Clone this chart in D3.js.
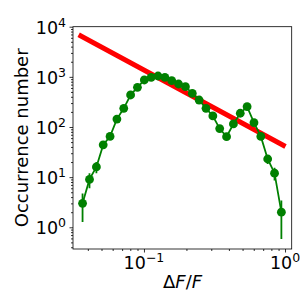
<!DOCTYPE html>
<html>
<head>
<meta charset="utf-8">
<script src="https://cdn.jsdelivr.net/npm/d3@7"></script>
<style>
  body { margin: 0; background: #fff; }
  text { font-family: 'DejaVu Sans', sans-serif; fill: #000; }
</style>
</head>
<body>
<svg id="chart" width="306" height="292"></svg>
<script>
// bins of dF/F (log spaced) and occurrence counts
const dff = [0.0367, 0.0411, 0.0460, 0.0514, 0.0575, 0.0643, 0.0719, 0.0804, 0.0899, 0.1006,
             0.1125, 0.1258, 0.1407, 0.1573, 0.1759, 0.1968, 0.2201, 0.2461, 0.2753, 0.3078,
             0.3442, 0.3850, 0.4306, 0.4816, 0.5385, 0.6023, 0.6736, 0.7534, 0.8425, 0.9421];
const counts = [3, 9, 16, 44, 65, 144, 236, 435, 619, 866,
                979, 1040, 979, 838, 720, 636, 470, 345, 236, 166,
                93, 64, 115, 188, 254, 122, 65, 23, 12, 2];

// power law fit, two end points
const fitX = [0.0357, 0.972];
const fitY = [6530, 43];

const yTicks = [1, 10, 100, 1000, 10000];
const yTickExp = ['0', '1', '2', '3', '4'];
const xTicks = [0.1, 1];
const xTickExp = ['\u22121', '0'];

let svg = d3.select('#chart');

const pLeft = 73, pRight = 291.7, pTop = 26.7, pBottom = 249;
const x = d3.scaleLog().domain([0.0314, 1.115]).range([pLeft, pRight]);
const y = d3.scaleLog().domain([0.369, 10000]).range([pBottom, pTop]);

svg.append('clipPath').attr('id', 'clip')
  .append('rect')
  .attr('x', pLeft).attr('y', pTop)
  .attr('width', pRight - pLeft).attr('height', pBottom - pTop);

// minor ticks
const isMajor = v => Math.abs(Math.log10(v) - Math.round(Math.log10(v))) < 1e-6;
const xMinor = x.ticks().filter(v => !isMajor(v));
const yMinor = y.ticks().filter(v => !isMajor(v));

svg.append('g')
  .attr('transform', `translate(0,${pBottom})`)
  .call(d3.axisBottom(x).tickValues(xMinor).tickSize(2).tickFormat(''))
  .call(g => g.select('.domain').remove());
svg.append('g')
  .attr('transform', `translate(${pLeft},0)`)
  .call(d3.axisLeft(y).tickValues(yMinor).tickSize(2).tickFormat(''))
  .call(g => g.select('.domain').remove());

// major ticks
svg.append('g')
  .attr('transform', `translate(0,${pBottom})`)
  .call(d3.axisBottom(x).tickValues(xTicks).tickSize(3.5).tickFormat(''))
  .call(g => g.select('.domain').remove());
svg.append('g')
  .attr('transform', `translate(${pLeft},0)`)
  .call(d3.axisLeft(y).tickValues(yTicks).tickSize(3.5).tickFormat(''))
  .call(g => g.select('.domain').remove());

svg.selectAll('.tick line').attr('stroke', '#000').attr('stroke-width', 0.8);

// tick labels 10^n
let yl = svg.selectAll('.ylab').data(yTicks).enter()
  .append('text')
  .attr('class', 'ylab')
  .attr('x', 66)
  .attr('y', d => y(d) + 7)
  .attr('text-anchor', 'end')
  .style('font-size', '17.5px');
yl.append('tspan').text('10');
yl.append('tspan').attr('dy', -7).style('font-size', '12.5px').text((d, i) => yTickExp[i]);

let xl = svg.selectAll('.xlab').data(xTicks).enter()
  .append('text')
  .attr('class', 'xlab')
  .attr('x', d => x(d))
  .attr('y', pBottom + 20)
  .attr('text-anchor', 'middle')
  .style('font-size', '17.5px');
xl.append('tspan').text('10');
xl.append('tspan').attr('dy', -7).style('font-size', '12.5px').text((d, i) => xTickExp[i]);

let plot = svg.append('g').attr('clip-path', 'url(#clip)');

// red fit line
plot.append('path')
  .datum(d3.zip(fitX, fitY))
  .attr('d', d3.line().x(d => x(d[0])).y(d => y(d[1])))
  .attr('fill', 'none')
  .attr('stroke', '#ff0000')
  .attr('stroke-width', 5)
  .attr('stroke-linecap', 'square');

// green data with poisson error bars
const pts = d3.zip(dff, counts);
plot.selectAll('.err').data(pts).enter()
  .append('line')
  .attr('x1', d => x(d[0])).attr('x2', d => x(d[0]))
  .attr('y1', d => y(Math.max(d[1] - Math.sqrt(d[1]), 0.01)))
  .attr('y2', d => y(d[1] + Math.sqrt(d[1])))
  .attr('stroke', 'green')
  .attr('stroke-width', 1.8);

plot.append('path')
  .datum(pts)
  .attr('d', d3.line().x(d => x(d[0])).y(d => y(d[1])))
  .attr('fill', 'none')
  .attr('stroke', 'green')
  .attr('stroke-width', 1.8);

plot.selectAll('.dot').data(pts).enter()
  .append('circle')
  .attr('cx', d => x(d[0]))
  .attr('cy', d => y(d[1]))
  .attr('r', 4.4)
  .attr('fill', 'green');

// frame
svg.append('rect')
  .attr('x', pLeft).attr('y', pTop)
  .attr('width', pRight - pLeft).attr('height', pBottom - pTop)
  .attr('fill', 'none')
  .attr('stroke', '#000')
  .attr('stroke-width', 0.8);

// axis titles
svg.append('text')
  .attr('transform', `translate(27.5,${(pTop + pBottom) / 2}) rotate(-90)`)
  .attr('text-anchor', 'middle')
  .style('font-size', '18px')
  .text('Occurrence number');

let xt = svg.append('text')
  .attr('x', 182.5)
  .attr('y', 287.5)
  .attr('text-anchor', 'middle')
  .style('font-size', '18px');
xt.append('tspan').text('\u0394');
xt.append('tspan').style('font-style', 'italic').text('F');
xt.append('tspan').text('/');
xt.append('tspan').style('font-style', 'italic').text('F');
</script>
</body>
</html>
